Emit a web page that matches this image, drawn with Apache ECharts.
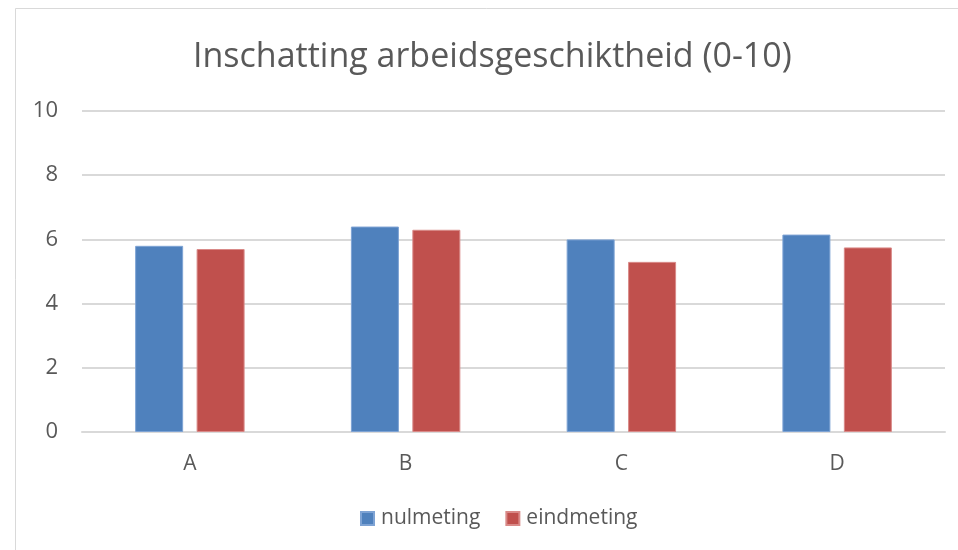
<!DOCTYPE html>
<html><head><meta charset="utf-8">
<script src="https://cdn.jsdelivr.net/npm/echarts@6/dist/echarts.min.js"></script>
<style>html,body{margin:0;padding:0;background:#fff}#c{width:958px;height:550px}</style>
</head><body><div id="c"></div>
<script>
const categories = ['A', 'B', 'C', 'D'];
const nulmeting = [5.8, 6.4, 6.0, 6.15];
const eindmeting = [5.7, 6.3, 5.3, 5.75];
const yTicks = [0, 2, 4, 6, 8, 10];

const chart = echarts.init(document.getElementById('c'));
const font = '"Open Sans", "Noto Sans", sans-serif';
chart.setOption({
  animation: false,
  backgroundColor: '#fff',
  graphic: [
    { type: 'line', shape: { x1: 15.5, y1: 8.5, x2: 958, y2: 8.5 }, style: { stroke: '#d9d9d9', lineWidth: 1 } },
    { type: 'line', shape: { x1: 15.5, y1: 8.5, x2: 15.5, y2: 550 }, style: { stroke: '#d9d9d9', lineWidth: 1 } }
  ],
  title: {
    text: 'Inschatting arbeidsgeschiktheid (0-10)',
    left: 188, top: 35,
    textStyle: { color: '#595959', fontSize: 34, fontWeight: 'normal', fontFamily: font }
  },
  legend: {
    data: ['nulmeting', 'eindmeting'],
    bottom: 16, left: 355,
    itemWidth: 13, itemHeight: 13, itemGap: 25,
    icon: 'rect',
    textStyle: { color: '#595959', fontSize: 21, fontFamily: font, padding: [0, 0, 0, 2] }
  },
  grid: { left: 82, right: 13, top: 111, bottom: 118, containLabel: false },
  xAxis: {
    type: 'category', data: categories,
    axisLine: { lineStyle: { color: '#d9d9d9', width: 2 } },
    axisTick: { show: false },
    axisLabel: { color: '#595959', fontSize: 21, fontFamily: font, margin: 22 }
  },
  yAxis: {
    type: 'value', min: 0, max: 10, interval: 2,
    axisLine: { show: false }, axisTick: { show: false },
    splitLine: { lineStyle: { color: '#d9d9d9', width: 2 } },
    axisLabel: { color: '#595959', fontSize: 22, fontFamily: font, margin: 24,
      formatter: v => yTicks.includes(v) ? String(v) : '' }
  },
  series: [
    { name: 'nulmeting', type: 'bar', data: nulmeting, barWidth: 48, barGap: '28%',
      itemStyle: { color: '#4f81bd', borderColor: '#7ea3d4', borderWidth: 1 } },
    { name: 'eindmeting', type: 'bar', data: eindmeting, barWidth: 48,
      itemStyle: { color: '#c0504d', borderColor: '#d98a88', borderWidth: 1 } }
  ]
});
</script></body></html>
